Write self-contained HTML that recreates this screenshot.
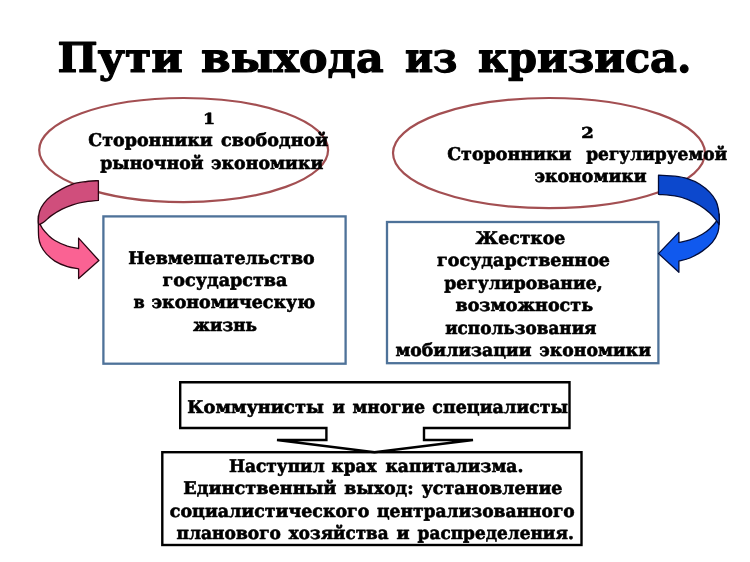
<!DOCTYPE html>
<html lang="ru">
<head>
<meta charset="utf-8">
<title>Пути выхода из кризиса</title>
<style>
html,body{margin:0;padding:0;background:#fff;}
body{width:750px;height:562px;overflow:hidden;}
svg{display:block;will-change:transform;}
text{font-family:"DejaVu Serif","Liberation Serif",serif;font-weight:bold;fill:#000;stroke:#000;stroke-linejoin:round;text-rendering:geometricPrecision;}
.t{font-size:41px;stroke-width:1.2px;}
.b{font-size:17.5px;stroke-width:0.6px;}
.n{font-size:15px;}
</style>
</head>
<body>
<svg width="750" height="562" viewBox="0 0 750 562">
<rect width="750" height="562" fill="#fff"/>
<!-- ellipses -->
<ellipse cx="183.65" cy="150.05" rx="144.45" ry="52.05" fill="none" stroke="#a34f52" stroke-width="2.2"/>
<ellipse cx="549" cy="153.1" rx="156" ry="55.1" fill="none" stroke="#a34f52" stroke-width="2.2"/>

<!-- blue rects -->
<rect x="103.4" y="216.4" width="242.2" height="147.3" fill="#fff" stroke="#4e7299" stroke-width="2.3"/>
<rect x="387" y="222" width="271.4" height="141.2" fill="#fff" stroke="#4e7299" stroke-width="2.3"/>

<!-- pink arrow -->
<path d="M38.3 216.0 C38.4 219.6 38.2 232.4 38.7 237.4 C39.2 242.4 40.0 243.5 41.2 246.2 C42.5 248.9 43.9 251.1 46.2 253.6 C48.5 256.1 51.4 258.9 54.9 261.1 C58.4 263.3 63.5 265.4 67.4 266.7 C71.4 268.0 76.7 268.4 78.6 268.8 L78.6 278.6 L98.9 260.5 L78.6 238.1 L78.6 248.6 C76.7 248.2 71.4 247.5 67.4 246.2 C63.5 244.8 58.0 242.3 54.9 240.5 C51.8 238.7 50.8 237.6 48.7 235.6 C46.6 233.6 44.1 231.0 42.5 228.7 C40.9 226.4 40.0 224.1 39.3 222.0 C38.6 219.9 38.5 217.0 38.3 216.0 Z" fill="#fa6293" stroke="#2a0612" stroke-width="1.3" stroke-linejoin="round"/>
<path d="M98.4 180.6 C95.9 180.8 87.7 181.3 83.4 181.9 C79.1 182.5 76.2 182.9 72.7 184.1 C69.2 185.3 65.7 186.9 62.1 188.9 C58.5 190.9 54.4 193.4 51.4 195.8 C48.4 198.2 45.9 200.7 43.9 203.3 C41.9 205.9 40.5 208.5 39.6 211.3 C38.7 214.1 38.4 217.7 38.3 219.9 C38.1 222.2 38.6 224.0 38.7 224.8 C39.6 224.3 41.8 223.5 43.9 222.0 C46.0 220.5 48.4 217.7 51.4 215.6 C54.4 213.5 58.5 211.0 62.1 209.2 C65.7 207.4 69.2 206.1 72.7 204.9 C76.2 203.7 79.1 202.9 83.4 202.2 C87.7 201.4 95.9 200.7 98.4 200.4 Z" fill="#d04e7c" stroke="#2a0612" stroke-width="1.3" stroke-linejoin="round"/>

<!-- blue arrow -->
<path d="M719.2 214.0 C719.2 215.4 719.4 219.4 719.2 222.5 C719.0 225.6 719.0 229.1 717.9 232.4 C716.8 235.7 714.9 239.3 712.3 242.4 C709.7 245.5 706.0 248.5 702.3 251.1 C698.6 253.7 693.8 256.3 689.9 258.0 C686.0 259.7 680.7 260.6 678.9 261.1 L678.9 272.3 L658.5 253.6 L678.9 232.4 L678.9 242.4 C680.7 242.0 686.0 241.2 689.9 239.9 C693.8 238.6 699.0 236.2 702.3 234.3 C705.6 232.4 707.6 230.7 709.8 228.7 C712.0 226.7 714.1 224.3 715.5 222.5 C716.9 220.7 717.4 219.4 718.0 218.0 C718.6 216.6 719.0 214.7 719.2 214.0 Z" fill="#1059ee" stroke="#020c38" stroke-width="1.3" stroke-linejoin="round"/>
<path d="M658.5 175.2 C661.2 175.4 670.1 175.6 674.9 176.2 C679.7 176.8 683.2 177.3 687.4 178.7 C691.5 180.0 696.1 182.0 699.8 184.3 C703.5 186.6 707.1 189.6 709.8 192.4 C712.5 195.2 714.5 198.2 716.0 201.1 C717.5 204.0 718.0 207.1 718.5 209.9 C719.0 212.7 719.1 215.6 719.2 218.0 C719.3 220.4 719.0 223.5 719.0 224.6 C718.5 223.8 717.5 221.7 716.0 219.8 C714.5 217.9 712.5 215.4 709.8 213.0 C707.1 210.6 703.5 207.8 699.8 205.5 C696.1 203.2 691.5 200.9 687.4 199.3 C683.2 197.7 679.7 196.7 674.9 195.9 C670.1 195.1 661.2 194.6 658.5 194.3 Z" fill="#0c48cd" stroke="#020c38" stroke-width="1.3" stroke-linejoin="round"/>

<!-- bottom boxes -->
<rect x="162.3" y="452.2" width="419.2" height="92.8" fill="#fff" stroke="#000" stroke-width="2.4"/>
<path d="M180.2 382.2 H569.5 V428 H424 V440 H473 L374.5 452.2 L277 440 H326.4 V428 H180.2 Z" fill="#fff" stroke="#000" stroke-width="2.4" stroke-linejoin="miter"/>

<!-- text -->
<text class="t" y="72.3" xml:space="preserve"><tspan x="57.63" textLength="125.27" lengthAdjust="spacingAndGlyphs">Пути</tspan><tspan> </tspan><tspan x="200.99" textLength="182.63" lengthAdjust="spacingAndGlyphs">выхода</tspan><tspan> </tspan><tspan x="404.90" textLength="52.33" lengthAdjust="spacingAndGlyphs">из</tspan><tspan> </tspan><tspan x="478.14" textLength="213.26" lengthAdjust="spacingAndGlyphs">кризиса.</tspan></text>
<text class="b" y="123.9" xml:space="preserve"><tspan class="n" x="203.00" textLength="12.08" lengthAdjust="spacingAndGlyphs">1</tspan></text>
<text class="b" y="146.4" xml:space="preserve"><tspan x="88.31" textLength="124.45" lengthAdjust="spacingAndGlyphs">Сторонники</tspan><tspan> </tspan><tspan x="221.05" textLength="107.16" lengthAdjust="spacingAndGlyphs">свободной</tspan></text>
<text class="b" y="168.6" xml:space="preserve"><tspan x="100.24" textLength="103.32" lengthAdjust="spacingAndGlyphs">рыночной</tspan><tspan> </tspan><tspan x="210.94" textLength="112.49" lengthAdjust="spacingAndGlyphs">экономики</tspan></text>
<text class="b" y="137.6" xml:space="preserve"><tspan class="n" x="581.30" textLength="12.60" lengthAdjust="spacingAndGlyphs">2</tspan></text>
<text class="b" y="160" xml:space="preserve"><tspan x="447.20" textLength="124.34" lengthAdjust="spacingAndGlyphs">Сторонники</tspan><tspan> </tspan><tspan x="586.23" textLength="140.87" lengthAdjust="spacingAndGlyphs">регулируемой</tspan></text>
<text class="b" y="182.3" xml:space="preserve"><tspan x="534.44" textLength="112.30" lengthAdjust="spacingAndGlyphs">экономики</tspan></text>
<text class="b" y="263.7" xml:space="preserve"><tspan x="128.21" textLength="186.32" lengthAdjust="spacingAndGlyphs">Невмешательство</tspan></text>
<text class="b" y="286.1" xml:space="preserve"><tspan x="162.59" textLength="124.84" lengthAdjust="spacingAndGlyphs">государства</tspan></text>
<text class="b" y="308.4" xml:space="preserve"><tspan x="133.49" textLength="11.20" lengthAdjust="spacingAndGlyphs">в</tspan><tspan> </tspan><tspan x="151.44" textLength="163.66" lengthAdjust="spacingAndGlyphs">экономическую</tspan></text>
<text class="b" y="330.8" xml:space="preserve"><tspan x="192.89" textLength="64.18" lengthAdjust="spacingAndGlyphs">жизнь</tspan></text>
<text class="b" y="244.0" xml:space="preserve"><tspan x="475.56" textLength="89.73" lengthAdjust="spacingAndGlyphs">Жесткое</tspan></text>
<text class="b" y="266.2" xml:space="preserve"><tspan x="437.05" textLength="172.93" lengthAdjust="spacingAndGlyphs">государственное</tspan></text>
<text class="b" y="288.7" xml:space="preserve"><tspan x="444.21" textLength="158.43" lengthAdjust="spacingAndGlyphs">регулирование,</tspan></text>
<text class="b" y="311.1" xml:space="preserve"><tspan x="455.49" textLength="137.55" lengthAdjust="spacingAndGlyphs">возможность</tspan></text>
<text class="b" y="333.6" xml:space="preserve"><tspan x="445.13" textLength="151.44" lengthAdjust="spacingAndGlyphs">использования</tspan></text>
<text class="b" y="355.8" xml:space="preserve"><tspan x="395.41" textLength="136.12" lengthAdjust="spacingAndGlyphs">мобилизации</tspan><tspan> </tspan><tspan x="539.34" textLength="111.64" lengthAdjust="spacingAndGlyphs">экономики</tspan></text>
<text class="b" y="413" xml:space="preserve"><tspan x="187.28" textLength="136.63" lengthAdjust="spacingAndGlyphs">Коммунисты</tspan><tspan> </tspan><tspan x="332.41" textLength="12.42" lengthAdjust="spacingAndGlyphs">и</tspan><tspan> </tspan><tspan x="352.52" textLength="72.51" lengthAdjust="spacingAndGlyphs">многие</tspan><tspan> </tspan><tspan x="432.35" textLength="135.71" lengthAdjust="spacingAndGlyphs">специалисты</tspan></text>
<text class="b" y="472" xml:space="preserve"><tspan x="228.90" textLength="95.73" lengthAdjust="spacingAndGlyphs">Наступил</tspan><tspan> </tspan><tspan x="331.54" textLength="45.08" lengthAdjust="spacingAndGlyphs">крах</tspan><tspan> </tspan><tspan x="385.52" textLength="137.83" lengthAdjust="spacingAndGlyphs">капитализма.</tspan></text>
<text class="b" y="494.4" xml:space="preserve"><tspan x="183.17" textLength="153.30" lengthAdjust="spacingAndGlyphs">Единственный</tspan><tspan> </tspan><tspan x="344.29" textLength="69.26" lengthAdjust="spacingAndGlyphs">выход:</tspan><tspan> </tspan><tspan x="421.66" textLength="140.79" lengthAdjust="spacingAndGlyphs">установление</tspan></text>
<text class="b" y="517" xml:space="preserve"><tspan x="169.83" textLength="199.51" lengthAdjust="spacingAndGlyphs">социалистического</tspan><tspan> </tspan><tspan x="376.98" textLength="197.79" lengthAdjust="spacingAndGlyphs">централизованного</tspan></text>
<text class="b" y="539.4" xml:space="preserve"><tspan x="176.52" textLength="104.45" lengthAdjust="spacingAndGlyphs">планового</tspan><tspan> </tspan><tspan x="288.81" textLength="99.70" lengthAdjust="spacingAndGlyphs">хозяйства</tspan><tspan> </tspan><tspan x="396.48" textLength="13.08" lengthAdjust="spacingAndGlyphs">и</tspan><tspan> </tspan><tspan x="417.58" textLength="156.24" lengthAdjust="spacingAndGlyphs">распределения.</tspan></text>
</svg>
</body>
</html>
